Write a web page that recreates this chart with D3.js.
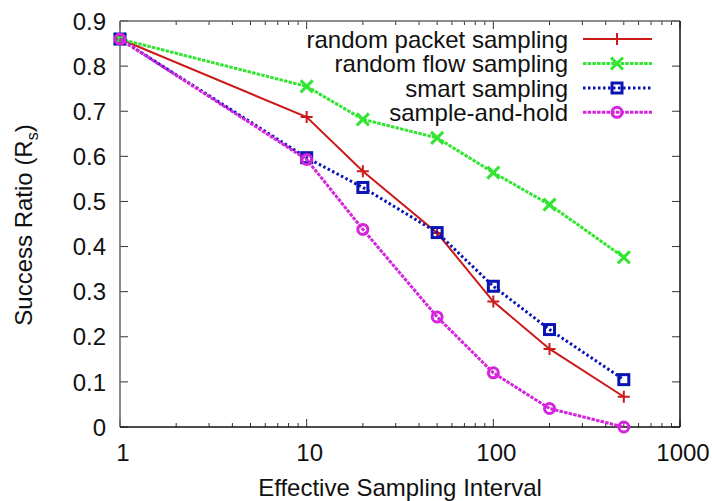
<!DOCTYPE html>
<html>
<head>
<meta charset="utf-8">
<script src="https://cdn.jsdelivr.net/npm/d3@7"></script>
<style>
  body { margin: 0; background: #fff; }
  svg { display: block; font-family: "Liberation Sans", Arial, sans-serif; }
</style>
</head>
<body>
<div id="chart"></div>
<script>
var intervals = [1, 10, 20, 50, 100, 200, 500];
var randomPacket = [0.86, 0.687, 0.567, 0.43, 0.278, 0.173, 0.067];
var randomFlow = [0.86, 0.755, 0.682, 0.641, 0.564, 0.493, 0.376];
var smartSampling = [0.86, 0.597, 0.531, 0.431, 0.312, 0.216, 0.105];
var sampleAndHold = [0.86, 0.593, 0.438, 0.244, 0.12, 0.041, 0.0];
var seriesNames = ["random packet sampling", "random flow sampling", "smart sampling", "sample-and-hold"];
var yTicks = [0, 0.1, 0.2, 0.3, 0.4, 0.5, 0.6, 0.7, 0.8, 0.9];
var xTicks = [1, 10, 100, 1000];

var width = 712, height = 501;
var margin = { left: 120, right: 32, top: 21, bottom: 74 };

var svg = d3.select("#chart").append("svg")
  .attr("width", width)
  .attr("height", height);

var x = d3.scaleLog().domain([1, 1000]).range([margin.left, width - margin.right]);
var y = d3.scaleLinear().domain([0, 0.9]).range([height - margin.bottom, margin.top]);

var x0 = x.range()[0], x1 = x.range()[1];
var y0 = y.range()[0], y1 = y.range()[1];

// minor ticks 2..9 per decade
var minor = [];
[1, 10, 100].forEach(function(d) {
  for (var k = 2; k <= 9; k++) minor.push(d * k);
});

var ticks = svg.append("g").attr("stroke", "#333").attr("stroke-width", 1);
yTicks.forEach(function(v) {
  ticks.append("line").attr("x1", x0).attr("x2", x0 + 8).attr("y1", y(v)).attr("y2", y(v));
  ticks.append("line").attr("x1", x1).attr("x2", x1 - 8).attr("y1", y(v)).attr("y2", y(v));
});
xTicks.forEach(function(v) {
  ticks.append("line").attr("x1", x(v)).attr("x2", x(v)).attr("y1", y0).attr("y2", y0 - 8);
  ticks.append("line").attr("x1", x(v)).attr("x2", x(v)).attr("y1", y1).attr("y2", y1 + 8);
});
minor.forEach(function(v) {
  ticks.append("line").attr("x1", x(v)).attr("x2", x(v)).attr("y1", y0).attr("y2", y0 - 4);
  ticks.append("line").attr("x1", x(v)).attr("x2", x(v)).attr("y1", y1).attr("y2", y1 + 4);
});

// frame
svg.append("line").attr("x1", x0).attr("x2", x0).attr("y1", y0).attr("y2", y1).attr("stroke", "#666").attr("stroke-width", 1.5);
svg.append("line").attr("x1", x0).attr("x2", x1).attr("y1", y1).attr("y2", y1).attr("stroke", "#666").attr("stroke-width", 1.5);
svg.append("line").attr("x1", x1).attr("x2", x1).attr("y1", y0).attr("y2", y1).attr("stroke", "#111").attr("stroke-width", 1.5);
svg.append("line").attr("x1", x0).attr("x2", x1).attr("y1", y0).attr("y2", y0).attr("stroke", "#111").attr("stroke-width", 1.5);

// tick labels
svg.append("g").selectAll("text").data(yTicks).enter().append("text")
  .attr("x", 106).attr("y", function(d) { return y(d); })
  .attr("dy", "0.36em")
  .attr("text-anchor", "end")
  .attr("font-size", 24)
  .attr("fill", "#111")
  .text(function(d) { return d === 0 ? "0" : d3.format(".1f")(d); });

svg.append("g").selectAll("text").data(xTicks).enter().append("text")
  .attr("x", function(d) { return x(d) + 3; }).attr("y", 461)
  .attr("text-anchor", "middle")
  .attr("font-size", 24)
  .attr("fill", "#111")
  .text(function(d) { return d; });

// axis titles
svg.append("text")
  .attr("x", 400).attr("y", 496)
  .attr("text-anchor", "middle")
  .attr("font-size", 24)
  .attr("fill", "#111")
  .text("Effective Sampling Interval");

var yt = svg.append("text")
  .attr("transform", "translate(32,225) rotate(-90)")
  .attr("text-anchor", "middle")
  .attr("font-size", 24)
  .attr("fill", "#111");
yt.append("tspan").text("Success Ratio (R");
yt.append("tspan").attr("font-size", 16).attr("dy", 6).text("s");
yt.append("tspan").attr("dy", -6).text(")");

// series
var series = [
  { name: seriesNames[0], values: randomPacket, color: "#cc1a1a", width: 2, dash: null, marker: "plus" },
  { name: seriesNames[1], values: randomFlow, color: "#33e533", width: 3, dash: "3.5,1.2", marker: "cross" },
  { name: seriesNames[2], values: smartSampling, color: "#0a14b4", width: 3, dash: "2.5,2.5", marker: "square" },
  { name: seriesNames[3], values: sampleAndHold, color: "#d424dc", width: 3, dash: "3.5,1.2", marker: "circle" }
];

var line = d3.line()
  .x(function(d, i) { return x(intervals[i]); })
  .y(function(d) { return y(d); });

function drawMarker(g, type, cx, cy, color) {
  if (type === "plus") {
    g.append("path").attr("d", "M" + (cx - 6) + "," + cy + "H" + (cx + 6) + "M" + cx + "," + (cy - 6) + "V" + (cy + 6))
      .attr("stroke", color).attr("stroke-width", 2).attr("fill", "none");
  } else if (type === "cross") {
    g.append("path").attr("d", "M" + (cx - 6) + "," + (cy - 6) + "L" + (cx + 6) + "," + (cy + 6) + "M" + (cx - 6) + "," + (cy + 6) + "L" + (cx + 6) + "," + (cy - 6))
      .attr("stroke", color).attr("stroke-width", 3).attr("fill", "none");
  } else if (type === "square") {
    g.append("rect").attr("x", cx - 5).attr("y", cy - 5).attr("width", 10).attr("height", 10)
      .attr("stroke", color).attr("stroke-width", 3).attr("fill", "none");
  } else {
    g.append("circle").attr("cx", cx).attr("cy", cy).attr("r", 5)
      .attr("stroke", color).attr("stroke-width", 3).attr("fill", "none");
  }
}

series.forEach(function(s) {
  var g = svg.append("g");
  g.append("path").datum(s.values)
    .attr("d", line)
    .attr("fill", "none")
    .attr("stroke", s.color)
    .attr("stroke-width", s.width)
    .attr("stroke-dasharray", s.dash);
  s.values.forEach(function(v, i) {
    drawMarker(g, s.marker, x(intervals[i]), y(v), s.color);
  });
});

// legend
var legendY = [39, 63.5, 88, 112.3];
series.forEach(function(s, i) {
  var g = svg.append("g");
  g.append("text")
    .attr("x", 568).attr("y", legendY[i])
    .attr("dy", "0.36em")
    .attr("text-anchor", "end")
    .attr("font-size", 24)
    .attr("fill", "#111")
    .text(s.name);
  g.append("line")
    .attr("x1", 583).attr("x2", 652)
    .attr("y1", legendY[i]).attr("y2", legendY[i])
    .attr("stroke", s.color)
    .attr("stroke-width", s.width)
    .attr("stroke-dasharray", s.dash);
  drawMarker(g, s.marker, 617, legendY[i], s.color);
});
</script>
</body>
</html>
